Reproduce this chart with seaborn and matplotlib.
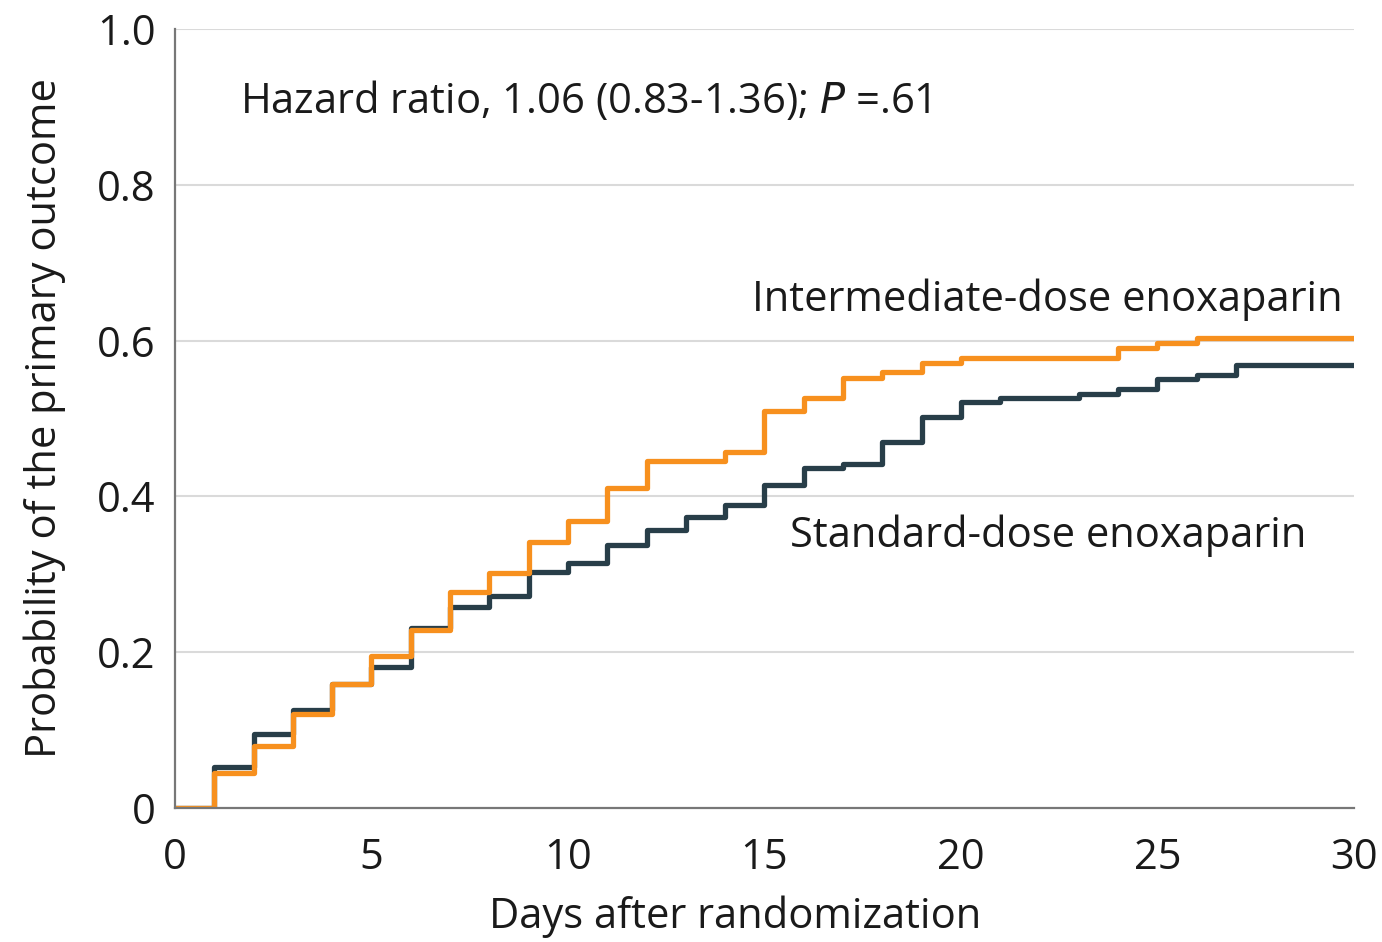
import matplotlib
matplotlib.use("Agg")
import matplotlib.pyplot as plt
import seaborn as sns
import pandas as pd

days = list(range(0, 31))
intermediate = [0, 0.045, 0.080, 0.120, 0.159, 0.195, 0.228, 0.277, 0.302, 0.342,
                0.369, 0.411, 0.446, 0.446, 0.457, 0.509, 0.526, 0.552, 0.560, 0.571,
                0.578, 0.578, 0.578, 0.578, 0.590, 0.597, 0.603, 0.603, 0.603, 0.603,
                0.603]
standard = [0, 0.052, 0.095, 0.126, 0.159, 0.181, 0.231, 0.258, 0.272, 0.303,
            0.314, 0.338, 0.357, 0.373, 0.389, 0.415, 0.436, 0.442, 0.470, 0.502,
            0.521, 0.526, 0.526, 0.531, 0.538, 0.551, 0.556, 0.569, 0.569, 0.569,
            0.569]
series_names = ["Standard-dose enoxaparin", "Intermediate-dose enoxaparin"]
colors = {"Standard-dose enoxaparin": "#283e49", "Intermediate-dose enoxaparin": "#f7901e"}
x_ticks = [0, 5, 10, 15, 20, 25, 30]
y_ticks = [0, 0.2, 0.4, 0.6, 0.8, 1.0]
y_tick_labels = ["0", "0.2", "0.4", "0.6", "0.8", "1.0"]

df = pd.concat([
    pd.DataFrame({"day": days, "prob": standard, "group": series_names[0]}),
    pd.DataFrame({"day": days, "prob": intermediate, "group": series_names[1]}),
])

sns.set_theme(style="white")
fam = ["Open Sans", "DejaVu Sans"]
plt.rcParams["font.family"] = fam

fig = plt.figure(figsize=(13.82, 9.42), dpi=100)
ax = fig.add_axes([0.1266, 0.1423, 0.8531, 0.8269])

sns.lineplot(data=df, x="day", y="prob", hue="group", hue_order=series_names,
             palette=colors, drawstyle="steps-post", linewidth=3.8, legend=False, ax=ax)

ax.set_xlim(0, 30)
ax.set_ylim(0, 1.0)
ax.set_xticks(x_ticks)
ax.set_yticks(y_ticks)
ax.set_yticklabels(y_tick_labels)
for y in y_ticks[1:]:
    ax.axhline(y, color="#dadada", linewidth=1.5, zorder=0)

for s in ["top", "right"]:
    ax.spines[s].set_visible(False)
for s in ["left", "bottom"]:
    ax.spines[s].set_color("#777777")
    ax.spines[s].set_linewidth(1.6)
fs = 30
ax.tick_params(axis="both", which="both", direction="out", length=9, width=1.6,
               color="#777777", labelsize=fs, labelcolor="#1a1a1a", pad=5)
ax.tick_params(axis="x", pad=12)

ax.set_xlabel("Days after randomization", fontsize=fs, color="#1a1a1a")
ax.set_ylabel("Probability of the primary outcome", fontsize=fs, color="#1a1a1a")
ax.xaxis.set_label_coords(0.475, -0.112)
ax.yaxis.set_label_coords(-0.092, 0.5)

ax.text(1.65, 0.908, "Hazard ratio, 1.06 (0.83-1.36); $\\mathit{P}$ =.61", fontsize=fs,
        color="#1a1a1a", ha="left", va="center")
ax.text(29.7, 0.652, "Intermediate-dose enoxaparin", fontsize=fs, color="#1a1a1a",
        ha="right", va="center")
ax.text(15.65, 0.350, "Standard-dose enoxaparin", fontsize=fs, color="#1a1a1a",
        ha="left", va="center")

fig.savefig("out.png", dpi=100)
